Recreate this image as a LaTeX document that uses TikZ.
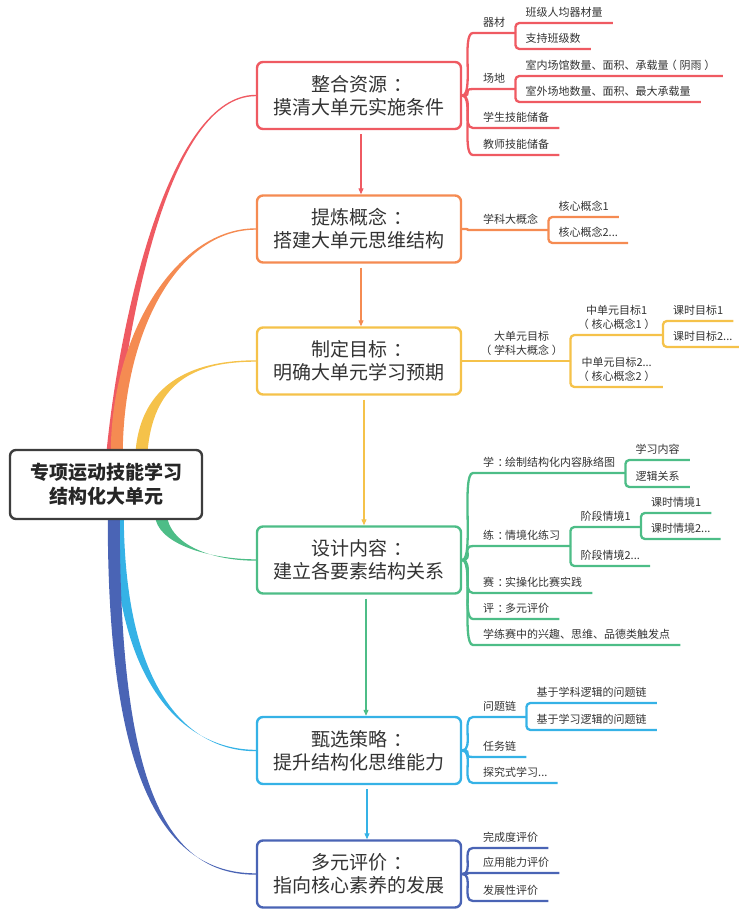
\documentclass[tikz,border=0pt]{standalone}
\usepackage{fontspec}
\setmainfont{Noto Sans CJK SC}
\usepackage{tikz}
\usetikzlibrary{arrows.meta,calc,backgrounds}
\definecolor{limbred}{HTML}{EF5A62}
\definecolor{limborange}{HTML}{F58B52}
\definecolor{limbyellow}{HTML}{F5C24A}
\definecolor{limbgreen}{HTML}{4DBD87}
\definecolor{limbsky}{HTML}{35B2E6}
\definecolor{limbblue}{HTML}{4A64B5}
\definecolor{inkgray}{HTML}{333333}
\tikzset{
  hub/.style={draw=inkgray!95,line width=2.4pt,rounded corners=6pt,fill=white,align=center,minimum width=192pt,minimum height=69pt,font=\fontsize{19}{24}\selectfont\bfseries,text=black!85},
  topic/.style={draw=#1,line width=2.4pt,rounded corners=6pt,fill=white,align=center,minimum width=204pt,minimum height=67pt,font=\fontsize{19}{23}\selectfont,text=inkgray},
  twig/.style={anchor=south west,inner xsep=10pt,inner ysep=5pt,text depth=1.5pt,align=center,font=\fontsize{11}{14}\selectfont,text=inkgray},
  fan/.style={draw=#1,line width=2.3pt,to path={.. controls +(12,0) and +(-12,0) .. (\tikztotarget.south west) -- (\tikztotarget.south east)}},
  sprig/.style={draw=#1,line width=2.3pt,rounded corners=4pt,to path={|- (\tikztotarget.south east)}},
  flow/.style={draw=#1,-{Triangle[length=6pt,width=5pt]},line width=1.1pt,shorten <=4pt},
}
\newcommand\limb[6]{%
  \fill[#1] ($#2+(-#6,0)$) .. controls +#4 and +#5 .. ($#3+(0,-0.7)$)
    -- ($#3+(0,0.7)$) .. controls +#5 and +#4 .. ($#2+(#6,0)$) -- cycle;}
\newcommand\cfw{\kern0.3em：\kern-0.3em}
\newcommand\lfw{\kern-0.25em（\kern0.25em}
\newcommand\rfw{\kern0.25em）\kern-0.25em}

\begin{document}
\begin{tikzpicture}[x=1pt,y=-1pt]
  \useasboundingbox (0,0) rectangle (738,909);
  \node[hub] (root) at (106,484.5) {专项运动技能学习\\结构化大单元};
  \node[topic=limbred] (b1) at (359,95.5) {整合资源\cfw\\摸清大单元实施条件};
  \node[topic=limborange] (b2) at (359,229) {提炼概念\cfw\\搭建大单元思维结构};
  \node[topic=limbyellow] (b3) at (359,361) {制定目标\cfw\\明确大单元学习预期};
  \node[topic=limbgreen] (b4) at (359,560) {设计内容\cfw\\建立各要素结构关系};
  \node[topic=limbsky] (b5) at (359,750.5) {甄选策略\cfw\\提升结构化思维能力};
  \node[topic=limbblue] (b6) at (359,874) {多元评价\cfw\\指向核心素养的发展};

  \begin{scope}[on background layer]
    \limb{limbred}{(root.north west)+(102,0)}{(b1.west)}{(13,-130)}{(-87,0)}{4}
    \limb{limborange}{(root.north west)+(108,0)}{(b2.west)}{(2,-120)}{(-77,0)}{6}
    \limb{limbyellow}{(root.north west)+(133,0)}{(b3.west)}{(7,-70)}{(-57,0)}{6}
    \limb{limbgreen}{(root.south west)+(153,0)}{(b4.west)}{(7,26)}{(-42,0)}{6}
    \limb{limbsky}{(root.south west)+(110,0)}{(b5.west)}{(2,171)}{(-67,0)}{5}
    \limb{limbblue}{(root.south west)+(105,0)}{(b6.west)}{(0,261)}{(-92,0)}{6}
  \end{scope}

  \foreach \a/\b/\c/\s in {b1/b2/limbred/2,b2/b3/limborange/2,b3/b4/limbyellow/5,b4/b5/limbgreen/7,b5/b6/limbsky/8}
    \draw[flow=\c] ([xshift=\s pt]\a.south) -- ([xshift=\s pt]\b.north);

  \node[twig] (eq) at (473,33) {器材};
  \node[twig] (eq1) at (eq.south east |- 0,23) {班级人均器材量};
  \node[twig] (eq2) at (eq.south east |- 0,49) {支持班级数};
  \node[twig] (site) at (473,89) {场地};
  \node[twig] (site1) at (site.south east |- 0,76) {室内场馆数量、面积、承载量\lfw 阴雨\rfw};
  \node[twig] (site2) at (site.south east |- 0,102) {室外场地数量、面积、最大承载量};
  \node[twig] (stuskill) at (473,128) {学生技能储备};
  \node[twig] (teaskill) at (473,155) {教师技能储备};
  \draw[fan=limbred] (b1.east) to (eq);
  \draw[sprig=limbred] (eq.south east) to (eq1);
  \draw[sprig=limbred] (eq.south east) to (eq2);
  \draw[fan=limbred] (b1.east) to (site);
  \draw[sprig=limbred] (site.south east) to (site1);
  \draw[sprig=limbred] (site.south east) to (site2);
  \draw[fan=limbred] (b1.east) to (stuskill);
  \draw[fan=limbred] (b1.east) to (teaskill);

  \node[twig] (bigidea) at (473,230) {学科大概念};
  \node[twig] (core1) at (bigidea.south east |- 0,217) {核心概念1};
  \node[twig] (core2) at (bigidea.south east |- 0,243) {核心概念2...};
  \draw[fan=limborange] (b2.east) to (bigidea);
  \draw[sprig=limborange] (bigidea.south east) to (core1);
  \draw[sprig=limborange] (bigidea.south east) to (core2);

  \node[twig] (unitgoal) at (473,361) {大单元目标\\\lfw 学科大概念\rfw};
  \node[twig] (midgoal1) at (unitgoal.south east |- 0,335) {中单元目标1\\\lfw 核心概念1\rfw};
  \node[twig] (lesson1) at (midgoal1.south east |- 0,321) {课时目标1};
  \node[twig] (lesson2) at (midgoal1.south east |- 0,347) {课时目标2...};
  \node[twig] (midgoal2) at (unitgoal.south east |- 0,387) {中单元目标2...\\\lfw 核心概念2\rfw};
  \draw[fan=limbyellow] (b3.east) to (unitgoal);
  \draw[sprig=limbyellow] (unitgoal.south east) to (midgoal1);
  \draw[sprig=limbyellow] (midgoal1.south east) to (lesson1);
  \draw[sprig=limbyellow] (midgoal1.south east) to (lesson2);
  \draw[sprig=limbyellow] (unitgoal.south east) to (midgoal2);

  \node[twig] (learn) at (473,473) {学\cfw 绘制结构化内容脉络图};
  \node[twig] (learn1) at (learn.south east |- 0,460) {学习内容};
  \node[twig] (learn2) at (learn.south east |- 0,487) {逻辑关系};
  \node[twig] (drill) at (473,546) {练\cfw 情境化练习};
  \node[twig] (stage1) at (drill.south east |- 0,527) {阶段情境1};
  \node[twig] (scene1) at (stage1.south east |- 0,513) {课时情境1};
  \node[twig] (scene2) at (stage1.south east |- 0,539) {课时情境2...};
  \node[twig] (stage2) at (drill.south east |- 0,566) {阶段情境2...};
  \node[twig] (match) at (473,593) {赛\cfw 实操化比赛实践};
  \node[twig] (assess) at (473,619) {评\cfw 多元评价};
  \node[twig] (trigger) at (473,645) {学练赛中的兴趣、思维、品德类触发点};
  \draw[fan=limbgreen] (b4.east) to (learn);
  \draw[sprig=limbgreen] (learn.south east) to (learn1);
  \draw[sprig=limbgreen] (learn.south east) to (learn2);
  \draw[fan=limbgreen] (b4.east) to (drill);
  \draw[sprig=limbgreen] (drill.south east) to (stage1);
  \draw[sprig=limbgreen] (stage1.south east) to (scene1);
  \draw[sprig=limbgreen] (stage1.south east) to (scene2);
  \draw[sprig=limbgreen] (drill.south east) to (stage2);
  \draw[fan=limbgreen] (b4.east) to (match);
  \draw[fan=limbgreen] (b4.east) to (assess);
  \draw[fan=limbgreen] (b4.east) to (trigger);

  \node[twig] (qchain) at (473,717) {问题链};
  \node[twig] (qchain1) at (qchain.south east |- 0,703) {基于学科逻辑的问题链};
  \node[twig] (qchain2) at (qchain.south east |- 0,730) {基于学习逻辑的问题链};
  \node[twig] (task) at (473,757) {任务链};
  \node[twig] (inquiry) at (473,783) {探究式学习...};
  \draw[fan=limbsky] (b5.east) to (qchain);
  \draw[sprig=limbsky] (qchain.south east) to (qchain1);
  \draw[sprig=limbsky] (qchain.south east) to (qchain2);
  \draw[fan=limbsky] (b5.east) to (task);
  \draw[fan=limbsky] (b5.east) to (inquiry);

  \node[twig] (done) at (473,848) {完成度评价};
  \node[twig] (apply) at (473,873) {应用能力评价};
  \node[twig] (grow) at (473,901) {发展性评价};
  \draw[fan=limbblue] (b6.east) to (done);
  \draw[fan=limbblue] (b6.east) to (apply);
  \draw[fan=limbblue] (b6.east) to (grow);
\end{tikzpicture}
\end{document}
